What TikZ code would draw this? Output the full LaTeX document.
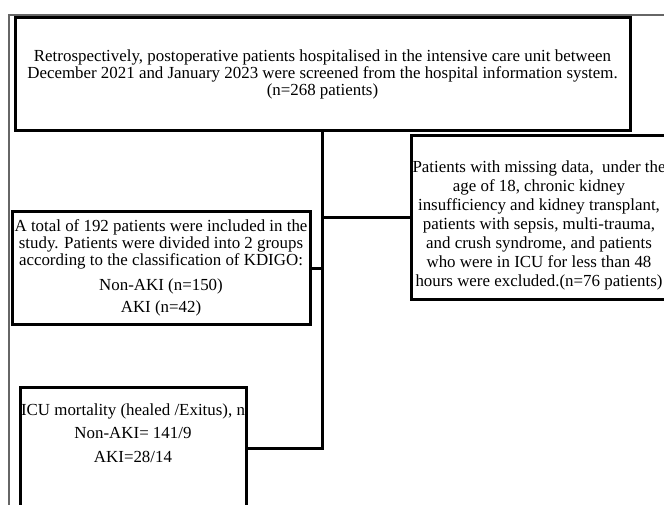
\documentclass[tikz,border=0pt]{standalone}
\usepackage{fontspec}
\setmainfont{Liberation Serif}

\begin{document}
\begin{tikzpicture}[
  x=1pt, y=-1pt,
  block/.style={draw, line width=3pt, inner sep=0pt, align=center,
                font=\fontsize{16.9}{17}\selectfont},
  wide/.style={block, font=\fontsize{16.9}{19}\selectfont},
  conn/.style={line width=3pt},
  pageframe/.style={draw=black!60, line width=1.3pt}
]
\clip (0,0) rectangle (664,505);

% Page frame
\draw[pageframe] (9,505) -- (9,15) -- (664,15);

\node[block, minimum width=615, minimum height=113] (screen) at (322.5,74.5)
  {Retrospectively, postoperative patients hospitalised in the intensive care unit between\\
   December 2021 and January 2023 were screened from the hospital information system.\\
   (n=268 patients)};
\node[wide, minimum width=256, minimum height=163] (excl) at (539,217.5)
  {\rule{0pt}{28pt}Patients with missing data,\ \ under the\\
   age of 18, chronic kidney\\
   insufficiency and kidney transplant,\\
   patients with sepsis, multi-trauma,\\
   and crush syndrome, and patients\\
   who were in ICU for less than 48\\
   hours were excluded.(n=76 patients)};
\node[block, minimum width=298, minimum height=112] (incl) at (161,268)
  {A total of 192 patients were included in the\\
   study. Patients were divided into 2 groups\\
   according to the classification of KDIGO:\\[8pt]
   Non-AKI (n=150)\\[5pt]
   AKI (n=42)};
\node[block, font=\fontsize{16.9}{23.5}\selectfont, minimum width=226, minimum height=122]
  (icu) at (133,448)
  {ICU mortality (healed /Exitus), n\\
   Non-AKI= 141/9\\
   AKI=28/14\\
   \strut};

\draw[conn] (screen.south) |- (icu.east);
\draw[conn] (incl.east) -- (incl.east -| screen.south);
\draw[conn] (excl.west) -- (excl.west -| screen.south);

\end{tikzpicture}
\end{document}
